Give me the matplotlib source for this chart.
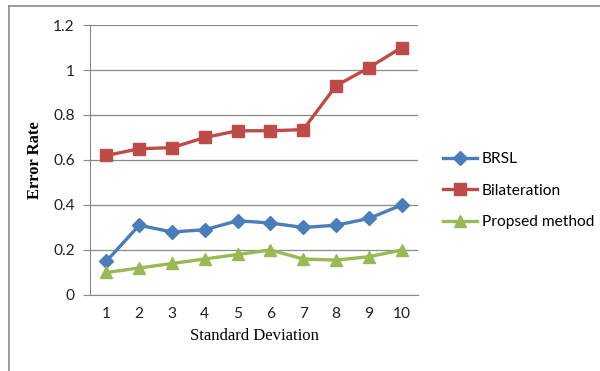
import matplotlib.pyplot as plt
from matplotlib.lines import Line2D

# error rate vs standard deviation
std_dev = [1, 2, 3, 4, 5, 6, 7, 8, 9, 10]
brsl = [0.15, 0.31, 0.28, 0.29, 0.33, 0.32, 0.30, 0.31, 0.34, 0.40]
bilateration = [0.62, 0.65, 0.655, 0.70, 0.73, 0.73, 0.735, 0.93, 1.01, 1.10]
proposed = [0.10, 0.12, 0.14, 0.16, 0.18, 0.20, 0.16, 0.155, 0.17, 0.20]
y_ticks = [0, 0.2, 0.4, 0.6, 0.8, 1.0, 1.2]
y_labels = ['0', '0.2', '0.4', '0.6', '0.8', '1', '1.2']

fig = plt.figure(figsize=(6, 3.71), dpi=100)
ax = fig.add_axes([0.15, 0.2049, 0.5467, 0.7277])

# outer chart frame
fig.add_artist(Line2D([9/600, 9/600], [0, 1 - 6/371], color='#8c8c8c', lw=1.2))
fig.add_artist(Line2D([9/600, 1], [1 - 6/371, 1 - 6/371], color='#8c8c8c', lw=1.2))

ax.plot(std_dev, brsl, color='#4a7ebb', lw=2.4, marker='D', ms=7, label='BRSL')
ax.plot(std_dev, bilateration, color='#be4b48', lw=2.4, marker='s', ms=8.5, label='Bilateration')
ax.plot(std_dev, proposed, color='#98b954', lw=2.4, marker='^', ms=9, label='Propsed method')

ax.set_xlim(0.5, 10.5)
ax.set_ylim(0, 1.2)
ax.set_xticks(std_dev)
ax.set_yticks(y_ticks)
ax.set_yticklabels(y_labels)
ax.yaxis.grid(True, color='#8a8a8a', lw=0.9)
ax.set_axisbelow(True)

for s in ['top', 'right']:
    ax.spines[s].set_visible(False)
ax.spines['left'].set_color('#8a8a8a')
ax.spines['bottom'].set_color('#8a8a8a')
ax.tick_params(axis='y', length=5, color='#8a8a8a', pad=6, labelsize=11.2)
ax.tick_params(axis='x', length=0, pad=9, labelsize=11.2)
for lbl in ax.get_xticklabels() + ax.get_yticklabels():
    lbl.set_family('Lato')
    lbl.set_color('#222222')

ax.set_ylabel('Error Rate', family='Liberation Serif', fontweight='bold', fontsize=12, labelpad=7)
ax.set_xlabel('Standard Deviation', family='Liberation Serif', fontsize=12, labelpad=5)

leg = fig.legend(loc='upper left', bbox_to_anchor=(0.715, 0.627), frameon=False,
                 handlelength=2.2, handletextpad=0.3, labelspacing=1.12,
                 prop={'family': 'Lato', 'size': 11.2})

fig.savefig('out.png', dpi=100)
